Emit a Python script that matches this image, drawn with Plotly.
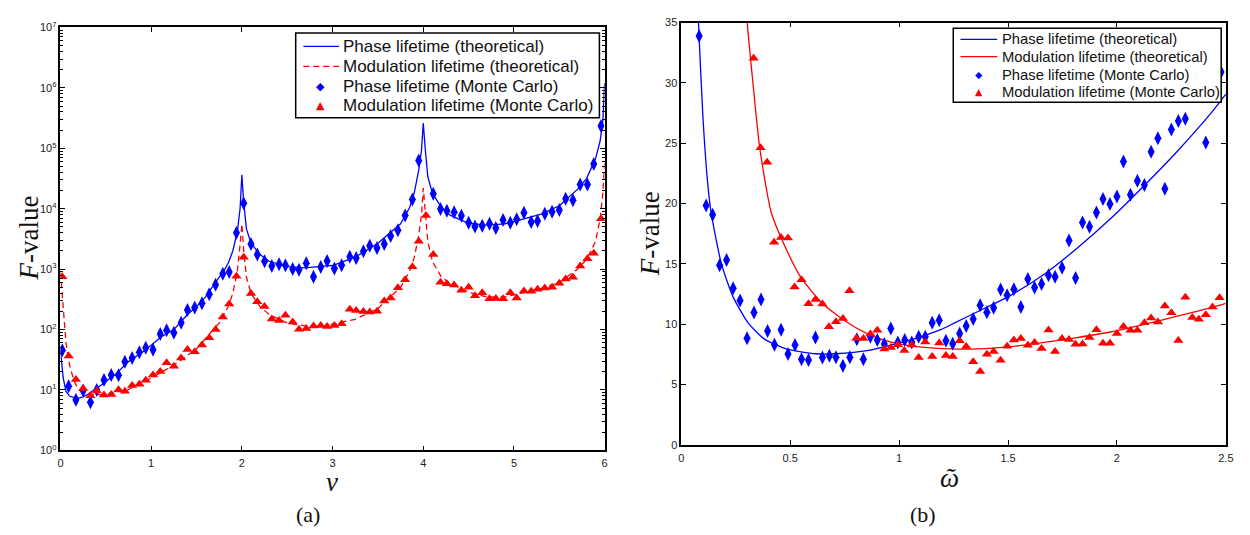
import plotly.graph_objects as go

W, H = 1250, 535

# ---------------- Panel (a) data ----------------
nu_mc = [0.02, 0.09, 0.17, 0.25, 0.33, 0.40, 0.48, 0.56, 0.64, 0.71, 0.79, 0.87, 0.94, 1.02, 1.10, 1.17,
         1.25, 1.33, 1.40, 1.48, 1.56, 1.64, 1.71, 1.79, 1.86, 1.94, 2.02, 2.10, 2.17, 2.25, 2.33, 2.41,
         2.48, 2.56, 2.63, 2.71, 2.79, 2.87, 2.94, 3.02, 3.10, 3.19, 3.26, 3.34, 3.41, 3.49, 3.57, 3.64,
         3.72, 3.80, 3.88, 3.95, 4.03, 4.11, 4.19, 4.26, 4.34, 4.42, 4.50, 4.57, 4.65, 4.73, 4.80, 4.88,
         4.96, 5.03, 5.11, 5.19, 5.26, 5.34, 5.42, 5.50, 5.57, 5.65, 5.73, 5.81, 5.88, 5.96]
phase_mc_a = [45.3, 11.5, 6.9, 9.8, 6.25, 10.0, 14.7, 17.7, 17.5, 29.4, 34.0, 42.1, 50.0, 46.5, 84.1, 97.5,
              88.3, 130, 210, 232, 272, 385, 552, 841, 895, 4000, 12300, 2620, 1750, 1350, 1130, 1200,
              1160, 1010, 975, 1250, 752, 1090, 1360, 1025, 1160, 1600, 1525, 1980, 2440, 2240, 2620, 3530,
              4420, 7710, 14200, 63100, None, 17700, 9890, 9290, 8730, 7620, 5870, 5060, 5250, 5660, 4820, 6490,
              5870, 6730, 8610, 6030, 6250, 8300, 8950, 9510, 14700, 13800, 25300, 25300, 55200, 235000]
mod_mc_a = [752, 36.7, 14.9, 10.6, 8.0, 9.6, 8.3, 8.4, 10.1, 9.5, 11.9, 12.5, 14.5, 17.7, 20.2, 28.3,
            24.7, 33.7, 47.0, 43.1, 55.8, 73.5, 100, 162, 266, 762, 1580, 395, 290, 241, 150, 142,
            173, 133, 101, 104, 115, 117, 112, 117, 125, 218, 207, 200, 195, 202, 297, 333,
            494, 665, 1100, 2900, 7710, 1750, 610, 573, 546, 448, 500, 362, 406, 324, 328, 324,
            406, 333, 437, 431, 465, 488, 500, 587, 690, 735, 1130, 1490, 1830, 6810]

nu_th_phase = [0.0, 0.03, 0.06, 0.1, 0.15, 0.2, 0.25, 0.3, 0.4, 0.5, 0.6, 0.75, 0.9, 1.0, 1.1, 1.25, 1.4,
               1.5, 1.6, 1.75, 1.8, 1.85, 1.9, 1.95, 1.98, 2.0, 2.02, 2.05, 2.1, 2.2, 2.3, 2.5, 2.7, 2.9,
               3.0, 3.25, 3.5, 3.75, 3.85, 3.9, 3.95, 3.98, 4.0, 4.02, 4.05, 4.1, 4.2, 4.3, 4.5, 4.7,
               4.9, 5.1, 5.3, 5.5, 5.7, 5.8, 5.9, 5.95, 5.98, 6.0]
phase_th_a = [45.7, 15.8, 9.55, 7.94, 7.5, 7.35, 7.7, 8.5, 10.7, 14.0, 17.8, 29.5, 42, 55, 74, 100, 178,
              240, 348, 740, 930, 1260, 2000, 4170, 10000, 36300, 12600, 4680, 2690, 1740, 1350, 1100, 1050, 1120,
              1150, 1580, 2690, 5620, 10500, 18200, 43700, 91200, 263000, 105000, 33900, 18200, 10500, 7760, 5750, 5370,
              5620, 6760, 8130, 11200, 20900, 31600, 67600, 132000, 282000, 1200000]

nu_th_mod = [0.0, 0.03, 0.06, 0.1, 0.15, 0.2, 0.3, 0.4, 0.5, 0.75, 1.0, 1.25, 1.5, 1.75, 1.85, 1.9, 1.95,
             1.98, 2.0, 2.02, 2.05, 2.1, 2.2, 2.3, 2.5, 2.7, 2.9, 3.0, 3.25, 3.5, 3.75, 3.85, 3.9, 3.95,
             3.98, 4.0, 4.02, 4.05, 4.1, 4.2, 4.3, 4.5, 4.7, 4.9, 5.1, 5.3, 5.5, 5.7, 5.8, 5.9, 5.95, 5.98, 6.0]
mod_th_a = [890, 240, 61.7, 25.7, 14.0, 10.2, 8.5, 8.3, 8.5, 10.2, 15.8, 25.7, 47.9, 129, 240, 398, 933,
            2510, 5620, 2000, 741, 398, 240, 178, 129, 115, 115, 123, 148, 224, 501, 933, 1550, 3630,
            7760, 21900, 8710, 2880, 1350, 741, 575, 417, 347, 347, 407, 479, 603, 1000, 1450, 2880, 6760, 18200, 56000]

# ---------------- Panel (b) data ----------------
omega_phase_mc = [0.082, 0.114, 0.144, 0.176, 0.208, 0.238, 0.27, 0.302, 0.334, 0.366, 0.396, 0.428, 0.458,
                  0.49, 0.522, 0.552, 0.584, 0.616, 0.648, 0.68, 0.71, 0.742, 0.774, 0.806, 0.836, 0.868,
                  0.9, 0.932, 0.962, 0.994, 1.026, 1.058, 1.09, 1.12, 1.152, 1.184, 1.215, 1.246, 1.278,
                  1.308, 1.34, 1.372, 1.403, 1.434, 1.466, 1.496, 1.527, 1.559, 1.591, 1.622, 1.654, 1.686,
                  1.716, 1.748, 1.78, 1.81, 1.842, 1.874, 1.906, 1.936, 1.968, 2.0, 2.03, 2.062, 2.094,
                  2.126, 2.157, 2.188, 2.22, 2.25, 2.282, 2.314, 2.408, 2.478]
phase_mc_b = [33.9, 19.85, 19.07, 14.9, 15.33, 12.99, 11.97, 8.85, 10.98, 12.05, 9.44, 8.31, 9.55,
              7.53, 8.29, 7.10, 7.05, 8.9, 7.24, 7.4, 7.26, 6.56, 7.26, 8.77, 7.10, 8.96,
              8.69, 8.37, 9.66, 8.5, 8.69, 8.5, 8.96, 8.96, 10.12, 10.33, 8.64, 8.39, 9.23,
              9.85, 10.44, 11.57, 11.0, 11.38, 12.89, 12.4, 12.91, 11.43, 13.75, 13.05, 13.34, 14.07,
              13.94, 14.69, 16.95, 13.83, 18.43, 18.08, 19.26, 20.39, 19.96, 20.58, 23.49, 20.74, 21.9,
              21.55, 24.29, 25.42, 21.23, 26.15, 26.85, 27.04, 25.07, 30.91]

omega_mod_mc = [0.332, 0.364, 0.394, 0.426, 0.458, 0.49, 0.52, 0.552, 0.584, 0.616, 0.648, 0.678, 0.71,
                0.742, 0.772, 0.804, 0.836, 0.868, 0.9, 0.932, 0.962, 0.994, 1.024, 1.058, 1.09, 1.12,
                1.152, 1.184, 1.215, 1.246, 1.278, 1.308, 1.34, 1.372, 1.403, 1.434, 1.466, 1.496, 1.527,
                1.559, 1.591, 1.622, 1.654, 1.686, 1.716, 1.748, 1.78, 1.81, 1.842, 1.874, 1.906, 1.936,
                1.968, 2.0, 2.03, 2.062, 2.094, 2.126, 2.157, 2.188, 2.22, 2.25, 2.282, 2.314, 2.346,
                2.376, 2.408, 2.439, 2.471]
mod_mc_b = [32.04, 24.64, 23.43, 16.79, 17.19, 17.16, 13.1, 13.69, 11.7, 12.05, 11.68, 9.79, 10.22,
            10.47, 12.78, 8.85, 8.82, 9.2, 9.5, 7.96, 8.07, 8.31, 7.83, 8.29, 7.24, 8.53,
            7.34, 8.45, 7.42, 7.34, 8.64, 8.15, 6.89, 6.08, 7.51, 7.75, 7.02, 8.18, 8.69,
            8.82, 8.26, 8.5, 7.99, 9.52, 7.75, 8.82, 8.74, 8.34, 8.37, 8.9, 9.55, 8.42,
            8.42, 9.23, 9.82, 9.5, 9.5, 10.12, 10.52, 10.2, 11.51, 10.95, 8.66, 12.24, 10.57,
            10.41, 10.79, 11.43, 12.19]

omega_th_phase = [0.075, 0.079, 0.099, 0.12, 0.137, 0.185, 0.238, 0.307, 0.382, 0.481, 0.618, 0.709, 0.86,
                  0.982, 1.088, 1.194, 1.255, 1.362, 1.512, 1.666, 1.817, 1.969, 2.12, 2.272, 2.424, 2.5]
phase_th_b = [37.0, 35.0, 27.33, 21.95, 19.26, 14.96, 12.27, 10.12, 8.77, 7.96, 7.56, 7.56, 7.83,
              8.37, 8.9, 9.58, 10.12, 11.06, 12.4, 14.15, 16.3, 18.72, 21.4, 24.24, 27.33, 29.08]

omega_th_mod = [0.298, 0.303, 0.329, 0.360, 0.413, 0.473, 0.549, 0.648, 0.754, 0.860, 0.967, 1.103, 1.24,
                1.362, 1.512, 1.666, 1.817, 1.969, 2.12, 2.272, 2.424, 2.5]
mod_th_b = [37.0, 35.0, 30.0, 24.64, 19.26, 16.57, 13.88, 11.73, 10.25, 9.17, 8.5, 8.1, 7.96,
            7.96, 8.15, 8.5, 8.9, 9.36, 9.98, 10.65, 11.33, 11.73]

legend_labels = ["Phase lifetime (theoretical)", "Modulation lifetime (theoretical)",
                 "Phase lifetime (Monte Carlo)", "Modulation lifetime (Monte Carlo)"]

BLUE = "#0000ff"
RED = "#ff0000"
SANS = "Liberation Sans, Arial, sans-serif"
SERIF = "Liberation Serif, Times New Roman, serif"

fig = go.Figure()

# ---- panel (a) traces ----
fig.add_trace(go.Scatter(x=nu_th_phase, y=phase_th_a, mode="lines", name=legend_labels[0],
                         line=dict(color=BLUE, width=1.3), xaxis="x", yaxis="y"))
fig.add_trace(go.Scatter(x=nu_th_mod, y=mod_th_a, mode="lines", name=legend_labels[1],
                         line=dict(color=RED, width=1.3, dash="6px,4px"), xaxis="x", yaxis="y"))
fig.add_trace(go.Scatter(x=nu_mc, y=phase_mc_a, mode="markers", name=legend_labels[2],
                         marker=dict(symbol="diamond-tall", size=10, color=BLUE, line=dict(width=0)),
                         xaxis="x", yaxis="y"))
fig.add_trace(go.Scatter(x=nu_mc, y=mod_mc_a, mode="markers", name=legend_labels[3],
                         marker=dict(symbol="triangle-up", size=9, color=RED, line=dict(width=0)),
                         xaxis="x", yaxis="y"))

# ---- panel (b) traces ----
fig.add_trace(go.Scatter(x=omega_th_phase, y=phase_th_b, mode="lines", name=legend_labels[0],
                         line=dict(color=BLUE, width=1.3, shape="spline", smoothing=0.6),
                         xaxis="x2", yaxis="y2"))
fig.add_trace(go.Scatter(x=omega_th_mod, y=mod_th_b, mode="lines", name=legend_labels[1],
                         line=dict(color=RED, width=1.3, shape="spline", smoothing=0.6),
                         xaxis="x2", yaxis="y2"))
fig.add_trace(go.Scatter(x=omega_phase_mc, y=phase_mc_b, mode="markers", name=legend_labels[2],
                         marker=dict(symbol="diamond-tall", size=10, color=BLUE, line=dict(width=0)),
                         xaxis="x2", yaxis="y2"))
fig.add_trace(go.Scatter(x=omega_mod_mc, y=mod_mc_b, mode="markers", name=legend_labels[3],
                         marker=dict(symbol="triangle-up", size=9, color=RED, line=dict(width=0)),
                         xaxis="x2", yaxis="y2"))

axis_common = dict(showline=True, linecolor="black", linewidth=1.5, mirror="ticks", ticks="inside",
                   ticklen=5, tickwidth=1, tickcolor="black", showgrid=False, zeroline=False,
                   tickfont=dict(family=SANS, size=11, color="#222"))

ytick_vals = [10 ** k for k in range(0, 8)]
ytick_text = ["10<sup>%d</sup>" % k for k in range(0, 8)]
minor_vals = [m * 10 ** k for k in range(0, 7) for m in range(2, 10)]

fig.update_layout(
    width=W, height=H, margin=dict(l=0, r=0, t=0, b=0),
    paper_bgcolor="white", plot_bgcolor="white", showlegend=False,
    xaxis=dict(domain=[58 / W, 607 / W], range=[0, 6], tickmode="array", tickvals=[0, 1, 2, 3, 4, 5, 6],
               anchor="y", ticklabelstandoff=2, **axis_common),
    yaxis=dict(domain=[1 - 454.3 / H, 1 - 20 / H], type="log", range=[0, 7], tickmode="array",
               tickvals=ytick_vals, ticktext=ytick_text, anchor="x",
               minor=dict(tickmode="array", tickvals=minor_vals, ticks="inside", ticklen=3, tickcolor="black",
                          showgrid=False),
               **axis_common),
    xaxis2=dict(domain=[684.3 / W, 1233.7 / W], range=[0, 2.5], tickmode="array",
                tickvals=[0, 0.5, 1, 1.5, 2, 2.5], ticktext=["0", "0.5", "1", "1.5", "2", "2.5"],
                anchor="y2", ticklabelstandoff=2, **axis_common),
    yaxis2=dict(domain=[1 - 448.7 / H, 1 - 15 / H], range=[0, 35], tickmode="array",
                tickvals=[0, 5, 10, 15, 20, 25, 30, 35], anchor="x2", **axis_common),
)

# ---- hand-built legends (box, line samples, marker glyphs, real text) ----
def px(x):
    return x / W


def py(y):
    return 1 - y / H


shapes = []
annotations = []


def add_legend(box, rows, line_x, mark_x, text_x, font_size, mark_size, styles):
    x0, y0, x1, y1 = box
    shapes.append(dict(type="rect", xref="paper", yref="paper", x0=px(x0), x1=px(x1), y0=py(y1), y1=py(y0),
                       fillcolor="white", line=dict(color="black", width=1.5), layer="above"))
    for (label, style, yrow) in zip(legend_labels, styles, rows):
        kind, color = style[0], style[1]
        if kind == "line":
            shapes.append(dict(type="line", xref="paper", yref="paper", x0=px(line_x[0]), x1=px(line_x[1]),
                               y0=py(yrow), y1=py(yrow), layer="above",
                               line=dict(color=color, width=1.3, dash=style[2])))
        else:
            annotations.append(dict(text=kind, x=px(mark_x), y=py(yrow), xref="paper", yref="paper",
                                    showarrow=False, xanchor="center", yanchor="middle",
                                    font=dict(family="DejaVu Sans", size=mark_size, color=color)))
        annotations.append(dict(text=label, x=px(text_x), y=py(yrow), xref="paper", yref="paper",
                                showarrow=False, xanchor="left", yanchor="middle",
                                font=dict(family=SANS, size=font_size, color="#111")))


add_legend((295.3, 25.7, 601.7, 112.7), [39.5, 60, 80.3, 100.3], (303, 339), 320.7, 341.5, 17, 11,
           [("line", BLUE, "solid"), ("line", RED, "6px,4px"), ("◆", BLUE), ("▲", RED)])
add_legend((958.7, 20.7, 1229, 96.7), [32.3, 50, 68.3, 86], (966, 1003), 985, 1006, 14.8, 9.5,
           [("line", BLUE, "solid"), ("line", RED, "solid"), ("◆", BLUE), ("▲", RED)])

titles = [
    dict(text="<i>F</i>-value", x=26 / W, y=1 - 236 / H, textangle=-90,
         font=dict(family=SERIF, size=27, color="#111")),
    dict(text="<i>F</i>-value", x=653 / W, y=1 - 232 / H, textangle=-90,
         font=dict(family=SERIF, size=27, color="#111")),
    dict(text="<i>ν</i>", x=332 / W, y=1 - 487 / H, font=dict(family=SERIF, size=27, color="#111")),
    dict(text="<i>ῶ</i>", x=955 / W, y=1 - 483 / H, font=dict(family=SERIF, size=27, color="#111")),
    dict(text="(a)", x=308 / W, y=1 - 520 / H, font=dict(family=SERIF, size=22, color="#111")),
    dict(text="(b)", x=928 / W, y=1 - 520 / H, font=dict(family=SERIF, size=22, color="#111")),
]
for a in titles:
    a.update(xref="paper", yref="paper", showarrow=False, xanchor="center", yanchor="middle")
annotations.extend(titles)

fig.update_layout(shapes=shapes, annotations=annotations)

fig.write_html("out.html")
